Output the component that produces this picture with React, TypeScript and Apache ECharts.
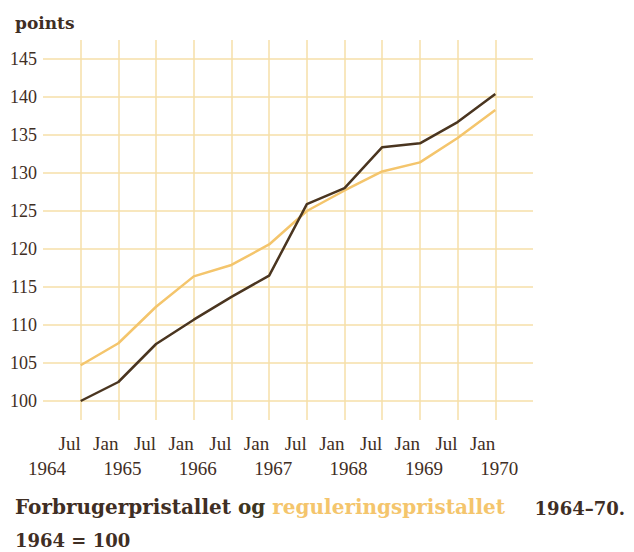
import React, { useEffect, useRef } from "react";
import * as echarts from "echarts";

// Half-year positions: 0 = Jan 1964 ... 13 = Jul 1970
const xTickLabels = ["", "Jul", "Jan", "Jul", "Jan", "Jul", "Jan", "Jul", "Jan", "Jul", "Jan", "Jul", "Jan", ""];
const yearLabels = ["1964", "1965", "1966", "1967", "1968", "1969", "1970"];
const periods = [
  "Jul 1964", "Jan 1965", "Jul 1965", "Jan 1966", "Jul 1966", "Jan 1967",
  "Jul 1967", "Jan 1968", "Jul 1968", "Jan 1969", "Jul 1969", "Jan 1970",
];
const periodPos = [1, 2, 3, 4, 5, 6, 7, 8, 9, 10, 11, 12];
const forbrugerpristallet = [100.0, 102.5, 107.5, 110.7, 113.7, 116.5, 125.9, 128.0, 133.4, 133.9, 136.7, 140.4];
const reguleringspristallet = [104.7, 107.6, 112.4, 116.4, 117.9, 120.6, 125.0, 127.7, 130.2, 131.4, 134.6, 138.3];

const DARK = "#3f2e24";
const LIGHT = "#f4c56c";
const GRID = "#f6dfa8";
const SERIF = "Liberation Serif";
const BOLD = "DejaVu Serif";

export default function App() {
  const ref = useRef<HTMLDivElement>(null);
  useEffect(() => {
    if (!ref.current) return;
    const chart = echarts.init(ref.current, null, { renderer: "svg" });
    chart.setOption({
      animation: false,
      backgroundColor: "#ffffff",
      title: [
        {
          text: "points",
          left: 10,
          top: 9,
          textStyle: { fontFamily: BOLD, fontWeight: "bold", fontSize: 17, color: DARK },
        },
        {
          text: "{a|Forbrugerpristallet }{o|og }{b|reguleringspristallet}",
          left: 10,
          top: 492,
          textStyle: {
            rich: {
              a: { fontFamily: BOLD, fontWeight: "bold", fontSize: 20, color: DARK },
              o: { fontFamily: BOLD, fontWeight: "bold", fontSize: 20, color: "#3d3520" },
              b: { fontFamily: BOLD, fontWeight: "bold", fontSize: 20, color: LIGHT },
            },
          },
        },
        {
          text: "1964–70.",
          right: 4,
          top: 494,
          textStyle: { fontFamily: BOLD, fontWeight: "bold", fontSize: 18, color: DARK },
        },
        {
          text: "1964 = 100",
          left: 10,
          top: 526,
          textStyle: { fontFamily: BOLD, fontWeight: "bold", fontSize: 18, color: DARK },
        },
      ],
      grid: { left: 43, right: 101, top: 40, bottom: 132, containLabel: false },
      xAxis: [
        {
          type: "value",
          min: 0,
          max: 13,
          interval: 1,
          axisLine: { show: false },
          axisTick: { show: false },
          axisLabel: {
            formatter: (v: number) => xTickLabels[v] ?? "",
            align: "right",
            margin: 14,
            fontFamily: SERIF,
            fontSize: 19,
            color: DARK,
          },
          splitLine: {
            show: true,
            showMinLine: false,
            showMaxLine: false,
            lineStyle: { color: GRID, width: 1.5 },
          },
        },
        {
          type: "value",
          position: "bottom",
          min: 0,
          max: 13,
          interval: 2,
          axisLine: { show: false },
          axisTick: { show: false },
          splitLine: { show: false },
          axisLabel: {
            formatter: (v: number) => (v % 2 === 0 ? yearLabels[v / 2] ?? "" : ""),
            margin: 39,
            fontFamily: SERIF,
            fontSize: 19,
            color: DARK,
            padding: [0, 0, 0, 8],
          },
        },
      ],
      yAxis: {
        type: "value",
        min: 97.5,
        max: 147.5,
        interval: 2.5,
        axisLine: { show: false },
        axisTick: { show: false },
        axisLabel: {
          formatter: (v: number) => (Math.abs(v % 5) < 1e-6 ? String(v) : ""),
          margin: 6,
          fontFamily: SERIF,
          fontSize: 18,
          color: DARK,
        },
        splitLine: {
          show: true,
          lineStyle: { color: ["transparent", GRID], width: 1.5 },
        },
      },
      series: [
        {
          name: "Forbrugerpristallet",
          type: "line",
          xAxisIndex: 0,
          showSymbol: false,
          lineStyle: { color: "#4a3520", width: 2.5 },
          data: periodPos.map((x, i) => [x, forbrugerpristallet[i], periods[i]]),
          z: 3,
        },
        {
          name: "reguleringspristallet",
          type: "line",
          xAxisIndex: 0,
          showSymbol: false,
          lineStyle: { color: LIGHT, width: 2.5 },
          data: periodPos.map((x, i) => [x, reguleringspristallet[i], periods[i]]),
          z: 2,
        },
      ],
    });
    return () => chart.dispose();
  }, []);
  return <div ref={ref} style={{ width: 634, height: 552, position: "absolute", left: 0, top: 0 }} />;
}
